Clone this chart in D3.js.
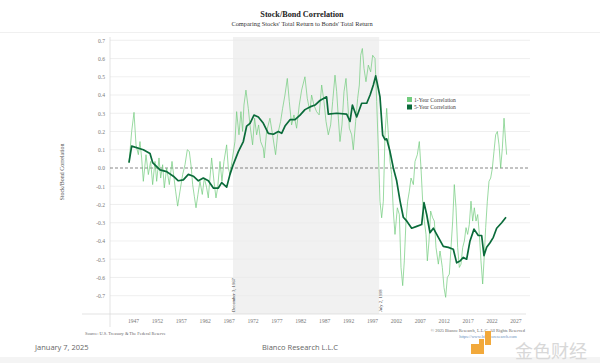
<!DOCTYPE html>
<html><head><meta charset="utf-8">
<script src="https://cdn.jsdelivr.net/npm/d3@7"></script>
<style>html,body{margin:0;padding:0;background:#fff;}svg{display:block;}</style>
</head><body>
<script>
// ---- data ----
const yTicks = [0.7,0.6,0.5,0.4,0.3,0.2,0.1,0.0,-0.1,-0.2,-0.3,-0.4,-0.5,-0.6,-0.7];
const xTicks = [1947,1952,1957,1962,1967,1972,1977,1982,1987,1992,1997,2002,2007,2012,2017,2022,2027];
const shadeStart = 1967.92, shadeEnd = 1998.5;
const shadeLabels = ["December 3, 1967","July 2, 1998"];
const seriesNames = ["1-Year Correlation","5-Year Correlation"];

const oneYearDates = [1946.16,1946.72,1947.21,1947.63,1948.12,1948.46,1948.81,1949.16,1949.72,1950.21,1950.69,1951.11,1951.6,1951.95,1952.44,1952.79,1953.2,1953.55,1954.04,1954.6,1955.16,1955.58,1955.92,1956.34,1956.83,1957.39,1957.88,1958.36,1958.78,1959.2,1959.48,1959.83,1960.18,1960.59,1961.01,1961.5,1961.92,1962.41,1962.75,1963.45,1963.94,1964.36,1964.71,1965.2,1965.61,1966.03,1966.59,1966.94,1967.29,1967.7,1968.33,1968.68,1969.17,1969.58,1969.93,1970.21,1970.63,1971.12,1971.47,1972.02,1972.44,1972.86,1973.28,1973.7,1974.25,1974.46,1974.95,1975.65,1976.2,1976.83,1977.25,1977.88,1978.3,1978.79,1979.28,1979.7,1980.18,1980.67,1981.23,1981.79,1982.28,1982.97,1983.46,1984.01,1984.36,1984.85,1985.4,1985.95,
1986.47,1986.96,1987.38,1987.86,1988.35,1988.77,1989.26,1989.61,1989.96,1990.3,1990.72,1991.14,1991.56,1991.91,1992.26,1992.75,1993.09,1993.58,1994.0,1994.35,1994.63,1994.98,1995.33,1995.74,1996.23,1996.72,1997.14,1997.63,1997.98,1998.32,1998.67,1999.02,1999.37,1999.72,2000.07,2000.42,2000.77,2001.11,2001.46,2001.81,2002.3,2002.72,2003.07,2003.42,2003.76,2004.11,2004.46,2004.81,2005.16,2005.65,2006.0,2006.48,2006.9,2007.25,2007.6,2007.95,2008.3,2008.58,2008.93,2009.27,2009.69,2010.04,2010.39,2010.88,2011.23,2011.71,2012.06,2012.41,2012.76,2013.18,2013.53,2013.88,2014.22,2014.57,2014.92,2015.27,2015.62,2015.97,2016.32,2016.67,2017.01,2017.36,2017.71,2018.06,2018.41,2018.76,2019.11,2019.46,2019.8,2020.15,2020.43,2020.78,2021.13,2021.48,2021.83,2022.18,2022.52,2022.87,2023.22,2023.57,2023.92,2024.27,2024.62,2024.9,2025.17];
const oneYearValues = [0.027,0.2,0.305,0.127,0.073,0.145,0.055,-0.073,0.073,-0.036,0.036,-0.091,0.036,-0.073,0.055,-0.055,0.018,-0.109,0,-0.091,0.036,-0.055,-0.127,-0.209,-0.127,-0.036,0.018,0.1,0.091,0,-0.091,-0.155,-0.218,-0.145,-0.073,-0.145,-0.055,-0.109,-0.164,0.055,-0.073,-0.164,-0.109,0.036,-0.073,0.036,0.127,0,-0.036,0.036,0.145,0.309,0.182,0.309,0.2,0.345,0.427,0.327,0.236,0.127,0.273,0.182,0.236,0.145,0.109,0.055,0.2,0.273,0.182,0.073,0.182,0.255,0.327,0.4,0.491,0.364,0.236,0.291,0.218,0.345,0.427,0.5,0.382,0.309,0.4,0.345,0.309,0.291,
0.455,0.364,0.255,0.182,0.236,0.364,0.509,0.418,0.273,0.145,0.236,0.418,0.491,0.364,0.218,0.182,0.1,0.255,0.382,0.455,0.618,0.655,0.545,0.473,0.564,0.527,0.618,0.6,0.364,0.109,-0.182,-0.273,-0.182,0.182,0.327,0.182,0.036,-0.036,-0.236,-0.364,-0.218,-0.255,-0.545,-0.645,-0.509,-0.291,-0.182,-0.127,-0.055,-0.091,0.036,0.073,0.145,0,-0.182,-0.291,-0.364,-0.509,-0.4,-0.236,-0.273,-0.291,-0.436,-0.527,-0.455,-0.545,-0.655,-0.709,-0.6,-0.582,-0.436,-0.291,-0.091,-0.218,-0.436,-0.545,-0.527,-0.436,-0.4,-0.327,-0.364,-0.309,-0.182,-0.291,-0.218,-0.291,-0.255,-0.364,-0.509,-0.636,-0.509,-0.327,-0.182,-0.073,-0.055,0,0.091,0.182,0.2,0.127,0,0.109,0.273,0.164,0.073];

const fiveYearDates = [1946.16,1946.72,1949.16,1950.56,1951.11,1952.65,1954.04,1955.44,1956.48,1957.53,1958.58,1959.62,1960.67,1961.71,1962.76,1963.81,1964.85,1965.55,1966.6,1967.29,1967.99,1969.04,1970.08,1970.78,1971.48,1972.31,1973.22,1974.27,1975.31,1976.36,1977.4,1978.1,1978.8,1979.85,1980.9,1981.94,1982.98,1984.03,1985.08,1986.12,1987.5,1987.86,1989.6,1991.7,1992.4,1992.9,1993.8,1994.84,1995.9,1996.6,1997.28,1997.77,1998.32,1998.67,1999.23,1999.72,2000.07,2000.77,2001.46,2002.16,2002.86,2003.55,2004.25,2005.3,2006.35,2007.39,2007.88,2008.44,2009.13,2009.83,2010.88,2011.92,2012.97,2014.01,2014.71,2015.41,2016.11,2016.8,2017.5,2018.34,2019.24,2019.94,2020.43,2020.99,2021.69,2022.38,2023.08,2024.13,2025.03];
const fiveYearValues = [0.03,0.12,0.1,0.08,0.03,-0.01,-0.02,-0.045,-0.07,-0.065,-0.035,-0.045,-0.07,-0.055,-0.07,-0.11,-0.11,-0.08,-0.105,-0.035,0.02,0.09,0.145,0.23,0.245,0.29,0.28,0.245,0.19,0.185,0.2,0.19,0.23,0.265,0.265,0.29,0.32,0.335,0.345,0.37,0.39,0.295,0.3,0.295,0.255,0.345,0.28,0.355,0.355,0.4,0.455,0.505,0.436,0.39,0.18,0.155,0.16,0.09,0.0,-0.07,-0.18,-0.27,-0.29,-0.33,-0.32,-0.31,-0.19,-0.255,-0.355,-0.33,-0.38,-0.43,-0.435,-0.445,-0.52,-0.51,-0.49,-0.5,-0.4,-0.335,-0.37,-0.37,-0.48,-0.435,-0.41,-0.38,-0.33,-0.3,-0.27];

// ---- layout ----
const W = 600, H = 363;
const svg = d3.select("body").append("svg").attr("width", W).attr("height", H);
const serif = "'Liberation Serif','DejaVu Serif',serif";
const sans = "'Open Sans','Noto Sans',sans-serif";

const x = d3.scaleLinear().domain([1947, 2027]).range([133, 515.4]);
const y = d3.scaleLinear().domain([-0.7, 0.7]).range([295.7, 40.3]);
const plotL = 110, plotR = 530, plotT = 37, plotB = 314;

// faint frame line at top of the chart image
svg.append("line").attr("x1",0).attr("x2",W).attr("y1",32.5).attr("y2",32.5).attr("stroke","#f0f0f0").attr("stroke-width",1);
svg.append("rect").attr("x",0).attr("y",357).attr("width",W).attr("height",6).attr("fill","#f4f4f4");

// title
svg.append("text").attr("x",302).attr("y",17).attr("text-anchor","middle")
  .attr("font-family",serif).attr("font-weight","bold").attr("font-size",8.2).attr("fill","#222").text("Stock/Bond Correlation");
svg.append("text").attr("x",302).attr("y",25.5).attr("text-anchor","middle")
  .attr("font-family",serif).attr("font-size",6.4).attr("fill","#333").text("Comparing Stocks' Total Return to Bonds' Total Return");

// shaded period
svg.append("rect").attr("x",x(shadeStart)).attr("y",plotT).attr("width",x(shadeEnd)-x(shadeStart)).attr("height",plotB-plotT).attr("fill","#f1f1f1");

// gridlines
svg.append("g").selectAll("line").data(yTicks.filter(d=>d!==0)).join("line")
  .attr("x1",plotL).attr("x2",plotR).attr("y1",d=>y(d)).attr("y2",d=>y(d))
  .attr("stroke","#ebebeb").attr("stroke-width",0.8);

// y axis
const yAxis = svg.append("g").attr("transform",`translate(${plotL},0)`)
  .call(d3.axisLeft(y).tickValues(yTicks).tickSize(0).tickPadding(5).tickFormat(d=>d.toFixed(1)));
yAxis.select(".domain").remove();
yAxis.selectAll("text").attr("font-family",serif).attr("font-size",5.6).attr("fill","#777");
svg.append("line").attr("x1",plotL).attr("x2",plotL).attr("y1",plotT).attr("y2",327).attr("stroke","#dcdcdc").attr("stroke-width",0.8);

// x axis
const xAxis = svg.append("g").attr("transform",`translate(0,${plotB})`)
  .call(d3.axisBottom(x).tickValues(xTicks).tickSize(0).tickPadding(5).tickFormat(d3.format("d")));
xAxis.select(".domain").remove();
xAxis.selectAll("text").attr("font-family",serif).attr("font-size",5.6).attr("fill","#777");
svg.append("line").attr("x1",82).attr("x2",plotR-4).attr("y1",plotB).attr("y2",plotB).attr("stroke","#dcdcdc").attr("stroke-width",0.8);

// y label
svg.append("text").attr("transform",`translate(64,172) rotate(-90)`).attr("text-anchor","middle")
  .attr("font-family",serif).attr("font-size",6).attr("fill","#555").text("Stock/Bond Correlation");

// zero line
svg.append("line").attr("x1",plotL).attr("x2",plotR).attr("y1",y(0)).attr("y2",y(0))
  .attr("stroke","#555").attr("stroke-width",0.7).attr("stroke-dasharray","3,2");

// lines
const oneYear = oneYearDates.map((d,i)=>[d,oneYearValues[i]]);
const fiveYear = fiveYearDates.map((d,i)=>[d,fiveYearValues[i]]);
const line = d3.line().x(d=>x(d[0])).y(d=>y(d[1]));
svg.append("path").datum(oneYear).attr("d",line).attr("fill","none").attr("stroke","#72cc7e").attr("stroke-width",0.8).attr("stroke-opacity",0.9);
svg.append("path").datum(fiveYear).attr("d",line).attr("fill","none").attr("stroke","#0a6b3a").attr("stroke-width",1.7).attr("stroke-linejoin","round");

// shade labels
[[shadeStart,shadeLabels[0]],[shadeEnd,shadeLabels[1]]].forEach(([d,t])=>{
  svg.append("text").attr("transform",`translate(${x(d)+2.5},312) rotate(-90)`)
    .attr("font-family",serif).attr("font-size",4.6).attr("fill","#444").text(t);
});

// legend
const lg = svg.append("g").attr("transform","translate(407,97)");
[["#72cc7e",0],["#0a6b3a",7.5]].forEach(([c,dy],i)=>{
  lg.append("rect").attr("x",0).attr("y",dy).attr("width",5).attr("height",5).attr("fill",c);
  lg.append("text").attr("x",7).attr("y",dy+4.6).attr("font-family",serif).attr("font-size",5.6).attr("fill","#444").text(seriesNames[i]);
});

// source & copyright
svg.append("text").attr("x",85).attr("y",335).attr("font-family",serif).attr("font-size",4.4).attr("fill","#666").text("Source: U.S. Treasury & The Federal Reserve");
svg.append("text").attr("x",525).attr("y",331.5).attr("text-anchor","end").attr("font-family",serif).attr("font-size",4.4).attr("fill","#666").text("© 2025 Bianco Research, L.L.C. All Rights Reserved");
svg.append("text").attr("x",488).attr("y",338).attr("text-anchor","middle").attr("font-family",serif).attr("font-size",4.4).attr("fill","#6a8fc0").text("https://www.biancoresearch.com");

// footer
svg.append("text").attr("x",35).attr("y",350).attr("font-family",sans).attr("font-size",7.5).attr("fill","#666").text("January 7, 2025");
svg.append("text").attr("x",300).attr("y",350).attr("text-anchor","middle").attr("font-family",sans).attr("font-size",7.5).attr("fill","#666").text("Bianco Research L.L.C");

// watermark
const wm = svg.append("g");
wm.append("path").attr("d","M471,344 L479,344 L479,339 L484,339 L484,354 L471,354 Z").attr("fill","#f2a93b");
wm.append("rect").attr("x",485).attr("y",331).attr("width",6).attr("height",14).attr("fill","#f2a93b");
wm.append("text").attr("x",515).attr("y",358).attr("font-family","'Noto Sans CJK SC',sans-serif").attr("font-size",18).attr("fill","#d8d8d8").text("金色财经");
</script>
</body></html>
